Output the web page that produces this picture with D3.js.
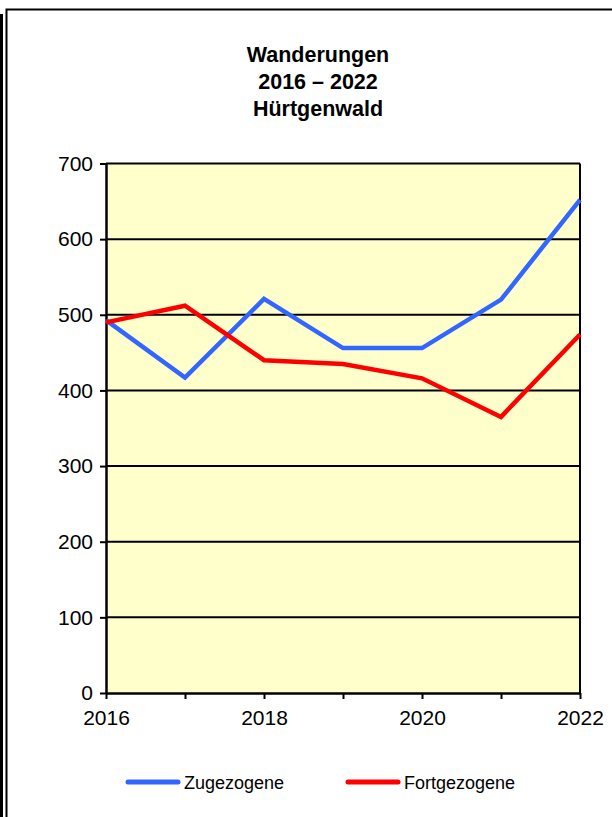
<!DOCTYPE html>
<html>
<head>
<meta charset="utf-8">
<script src="https://cdn.jsdelivr.net/npm/d3@7"></script>
<style>
  body { margin: 0; background: #fff; }
  svg { display: block; font-family: "Liberation Sans", Arial, sans-serif; }
</style>
</head>
<body>
<svg id="chart" width="612" height="817"></svg>
<script>
const years = [2016, 2017, 2018, 2019, 2020, 2021, 2022];
const zugezogene = [493, 417, 521, 456, 456, 520, 652];
const fortgezogene = [490, 512, 440, 435, 416, 365, 474];
const yTicks = [0, 100, 200, 300, 400, 500, 600, 700];
const xLabels = [2016, 2018, 2020, 2022];
const titleLines = ["Wanderungen", "2016 – 2022", "Hürtgenwald"];

const series = [
  { name: "Zugezogene", values: zugezogene, color: "#3366ff" },
  { name: "Fortgezogene", values: fortgezogene, color: "#ff0000" }
];

const svg = d3.select("#chart");
const margin = { left: 106, top: 163.5, right: 580, bottom: 693 };
const FONT = "Liberation Sans, Arial, sans-serif";

// outer frame
svg.append("rect").attr("x", 0).attr("y", 14).attr("width", 3).attr("height", 817 - 14).attr("fill", "#000");
svg.append("path")
  .attr("d", "M6.5,817 V9.5 H612")
  .attr("fill", "none").attr("stroke", "#000").attr("stroke-width", 2);

// title
svg.append("g").selectAll("text").data(titleLines).enter().append("text")
  .attr("x", 318)
  .attr("y", (d, i) => 62 + i * 27)
  .attr("text-anchor", "middle")
  .attr("font-size", 21.5).attr("font-weight", "bold")
  .text(d => d);

const x = d3.scaleLinear().domain([2016, 2022]).range([margin.left, margin.right]);
const y = d3.scaleLinear().domain([0, 700]).range([margin.bottom, margin.top]);

// plot background
svg.append("rect")
  .attr("x", margin.left).attr("y", margin.top)
  .attr("width", margin.right - margin.left).attr("height", margin.bottom - margin.top)
  .attr("fill", "#ffffcc");

// grid lines
svg.append("g").selectAll("line").data(yTicks.slice(1)).enter().append("line")
  .attr("x1", margin.left).attr("x2", margin.right)
  .attr("y1", d => y(d)).attr("y2", d => y(d))
  .attr("stroke", "#000").attr("stroke-width", 2);

// right border
svg.append("line")
  .attr("x1", margin.right).attr("x2", margin.right)
  .attr("y1", margin.top).attr("y2", margin.bottom)
  .attr("stroke", "#000").attr("stroke-width", 2);

// y axis
const yAxis = svg.append("g")
  .attr("transform", `translate(${margin.left},0)`)
  .call(d3.axisLeft(y).tickValues(yTicks).tickSize(6).tickPadding(7).tickSizeOuter(0));
yAxis.select(".domain").attr("stroke-width", 2.5);
yAxis.selectAll(".tick line").attr("stroke-width", 2);
yAxis.selectAll("text").attr("font-size", 21).attr("fill", "#000").attr("font-family", FONT);

// x axis
const xAxis = svg.append("g")
  .attr("transform", `translate(0,${margin.bottom})`)
  .call(d3.axisBottom(x).tickValues(years).tickSize(6).tickPadding(11).tickSizeOuter(0)
    .tickFormat(d => xLabels.includes(d) ? d : ""));
xAxis.select(".domain").attr("stroke-width", 2.5);
xAxis.selectAll(".tick line").attr("stroke-width", 2);
xAxis.selectAll("text").attr("font-size", 21).attr("fill", "#000").attr("font-family", FONT);

// lines
const line = d3.line().x((d, i) => x(years[i])).y(d => y(d));
svg.append("g").selectAll("path").data(series).enter().append("path")
  .attr("d", d => line(d.values))
  .attr("fill", "none")
  .attr("stroke", d => d.color)
  .attr("stroke-width", 4.5)
  .attr("stroke-linejoin", "miter");

// legend
const legendX = [126, 346];
const legend = svg.append("g").selectAll("g").data(series).enter().append("g")
  .attr("transform", (d, i) => `translate(${legendX[i]},782)`);
legend.append("line")
  .attr("x1", 2).attr("x2", 52)
  .attr("stroke", d => d.color).attr("stroke-width", 5).attr("stroke-linecap", "round");
legend.append("text")
  .attr("x", 58).attr("y", 6.5)
  .attr("font-size", 18)
  .text(d => d.name);
</script>
</body>
</html>
